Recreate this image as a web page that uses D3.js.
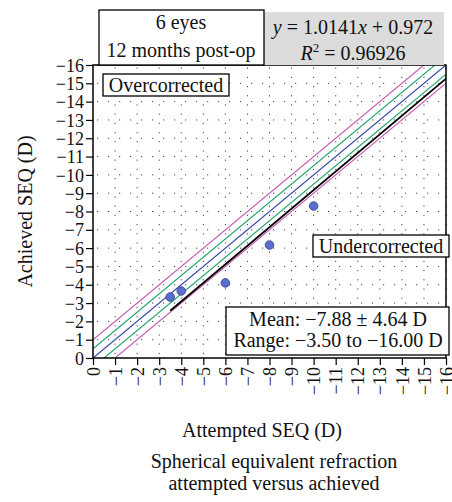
<!DOCTYPE html>
<html>
<head>
<meta charset="utf-8">
<script src="https://cdn.jsdelivr.net/npm/d3@7"></script>
<style>
  body { margin: 0; background: #fff; }
  text { font-family: "Liberation Serif", "DejaVu Serif", serif; fill: #111; }
</style>
</head>
<body>
<div id="chart"></div>
<script>
// measured eyes: attempted vs achieved SEQ (D)
var attempted = [-3.5, -4, -6, -8, -10];
var achieved = [-3.33, -3.66, -4.1, -6.17, -8.3];

// reference lines: offset from the y = x line (D)
var refOffsets = [-1, -0.5, 0, 0.5, 1];
var refColors = ["#c45fb2", "#27a473", "#3447aa", "#27a473", "#c45fb2"];

// regression y = slope * x + intercept, drawn over the attempted range
var slope = 1.0141, intercept = 0.972;
var fitRange = [-3.5, -16];

var ticks = d3.range(0, -17, -1);

var W = 452, H = 502;
var margin = { top: 65, right: 6, bottom: 144, left: 93 };
var fs = 20, tickFs = 18;

var svg = d3.select("#chart").append("svg")
    .attr("width", W)
    .attr("height", H);

var x = d3.scaleLinear().domain([0, -16]).range([margin.left, W - margin.right]);
var y = d3.scaleLinear().domain([0, -16]).range([H - margin.bottom, margin.top]);

//dotted grid
var grid = svg.append("g");
ticks.slice(1).forEach(function (t) {
    grid.append("line")
        .attr("x1", x(0) + 4).attr("x2", x(-16))
        .attr("y1", y(t)).attr("y2", y(t))
        .attr("stroke", "#444").attr("stroke-width", 1)
        .attr("stroke-dasharray", "1.2,9.8");
    grid.append("line")
        .attr("x1", x(t)).attr("x2", x(t))
        .attr("y1", y(0) - 4).attr("y2", y(-16))
        .attr("stroke", "#444").attr("stroke-width", 1)
        .attr("stroke-dasharray", "1.2,8");
});

//clip to the plot area
svg.append("clipPath").attr("id", "plotClip")
    .append("rect")
    .attr("x", x(0)).attr("y", y(-16))
    .attr("width", x(-16) - x(0)).attr("height", y(0) - y(-16));

var plot = svg.append("g").attr("clip-path", "url(#plotClip)");

var line = d3.line()
    .x(function (d) { return x(d[0]); })
    .y(function (d) { return y(d[1]); });

refOffsets.forEach(function (o, i) {
    plot.append("path")
        .attr("d", line([[0, o], [-17, -17 + o]]))
        .attr("fill", "none")
        .attr("stroke", refColors[i])
        .attr("stroke-width", 1.2);
});

plot.append("path")
    .attr("d", line(fitRange.map(function (v) { return [v, slope * v + intercept]; })))
    .attr("fill", "none")
    .attr("stroke", "#000")
    .attr("stroke-width", 1.8);

plot.selectAll(".pt")
    .data(attempted)
    .enter()
    .append("circle")
    .attr("class", "pt")
    .attr("cx", function (d) { return x(d); })
    .attr("cy", function (d, i) { return y(achieved[i]); })
    .attr("r", 4.3)
    .attr("fill", "#5b6ed0")
    .attr("stroke", "#2d3a8a")
    .attr("stroke-width", 0.8);

//axes
var fmt = function (d) { return d === 0 ? "0" : "\u2212" + Math.abs(d); };

var gy = svg.append("g")
    .attr("transform", "translate(" + x(0) + ",0)")
    .call(d3.axisLeft(y).tickValues(ticks).tickSize(7).tickFormat(fmt));
gy.select(".domain").remove();
gy.selectAll("line").attr("stroke", "#000").attr("stroke-width", 1.2);
gy.selectAll("text")
    .attr("font-family", "Liberation Serif, serif")
    .attr("font-size", tickFs)
    .attr("x", -9)
    .attr("dy", "0.34em")
    .attr("fill", "#111");

var gx = svg.append("g")
    .attr("transform", "translate(0," + y(0) + ")")
    .call(d3.axisBottom(x).tickValues(ticks).tickSize(7).tickFormat(fmt));
gx.select(".domain").remove();
gx.selectAll("line").attr("stroke", "#000").attr("stroke-width", 1.2);
gx.selectAll("text")
    .attr("font-family", "Liberation Serif, serif")
    .attr("font-size", tickFs)
    .attr("transform", "rotate(-90)")
    .attr("text-anchor", "end")
    .attr("dy", "0.34em")
    .attr("x", -9)
    .attr("y", 0)
    .attr("fill", "#111");

//plot frame
svg.append("rect")
    .attr("x", x(0)).attr("y", y(-16))
    .attr("width", x(-16) - x(0)).attr("height", y(0) - y(-16))
    .attr("fill", "none").attr("stroke", "#000").attr("stroke-width", 1.5);

//annotation boxes
function box(x0, y0, w, h, fill, stroke) {
    svg.append("rect")
        .attr("x", x0).attr("y", y0).attr("width", w).attr("height", h)
        .attr("fill", fill).attr("stroke", stroke)
        .attr("stroke-width", 1.3);
}

function label(tx, ty, s) {
    return svg.append("text").attr("x", tx).attr("y", ty)
        .attr("text-anchor", "middle").attr("font-size", fs).text(s);
}

box(264, 12, 180, 53, "#dcdcdc", "none");
box(99, 10, 165, 55, "#fff", "#000");

label(181, 29, "6 eyes");
label(181, 57, "12 months post-op");

var eq = label(353, 34, null);
eq.append("tspan").attr("font-style", "italic").text("y");
eq.append("tspan").text(" = 1.0141");
eq.append("tspan").attr("font-style", "italic").text("x");
eq.append("tspan").text(" + 0.972");

var r2 = label(353, 60, null);
r2.append("tspan").attr("font-style", "italic").text("R");
r2.append("tspan").attr("font-size", 13).attr("dy", -8).text("2");
r2.append("tspan").attr("dy", 8).text(" = 0.96926");

box(103, 74, 126, 22, "#fff", "#000");
label(166, 92, "Overcorrected");

box(313, 235, 136, 22, "#fff", "#000");
label(381, 253, "Undercorrected");

box(226, 307, 223, 48, "#fff", "#000");
label(338, 326, "Mean: \u22127.88 \u00b1 4.64 D");
label(338, 347, "Range: \u22123.50 to \u221216.00 D");

//axis titles and caption
svg.append("text")
    .attr("transform", "translate(32," + ((y(0) + y(-16)) / 2) + ") rotate(-90)")
    .attr("text-anchor", "middle").attr("font-size", fs)
    .text("Achieved SEQ (D)");

label(262, 437, "Attempted SEQ (D)");
label(274, 468, "Spherical equivalent refraction");
label(274, 490, "attempted versus achieved");
</script>
</body>
</html>
